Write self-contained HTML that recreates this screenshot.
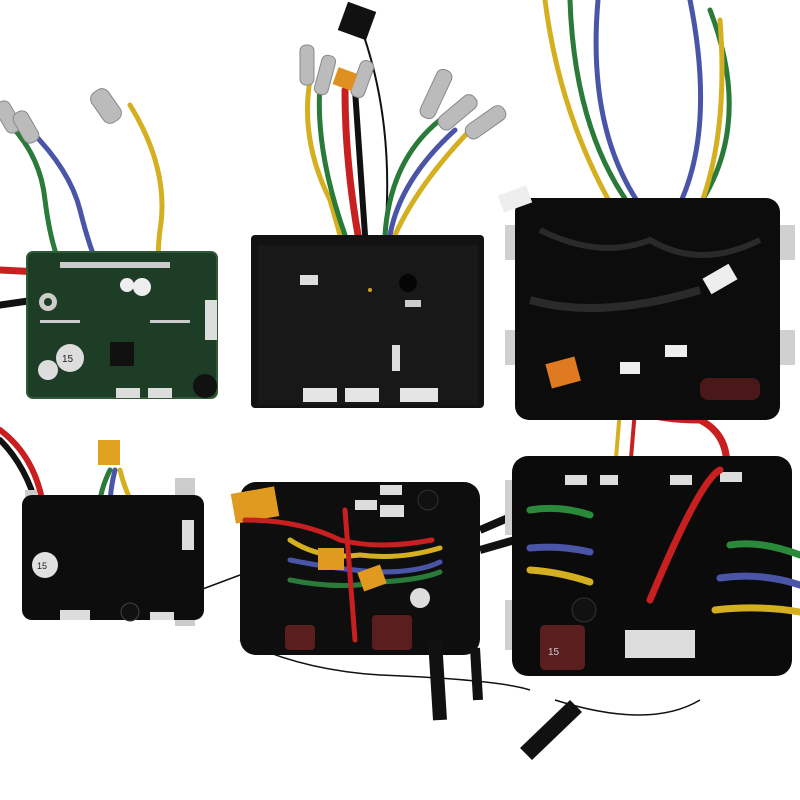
<!DOCTYPE html>
<html><head><meta charset="utf-8"><style>
html,body{margin:0;padding:0;background:#fff;width:800px;height:800px;overflow:hidden}
svg{display:block}
</style></head><body>
<svg width="800" height="800" viewBox="0 0 800 800" xmlns="http://www.w3.org/2000/svg" font-family="Liberation Sans, sans-serif">
<rect width="800" height="800" fill="#fff"/>
<g fill="none" stroke-linecap="round" stroke-width="5">
<!-- PCB wires -->
<path d="M0 115 Q40 150 45 200 Q50 240 60 265" stroke="#2a7a3a"/>
<path d="M30 130 Q70 170 80 210 Q90 250 100 270" stroke="#4a55a8"/>
<path d="M130 105 Q170 170 160 230 Q155 270 165 285" stroke="#d4b020"/>
<path d="M0 270 L40 272" stroke="#c82020" stroke-width="7"/>
<path d="M0 305 L35 300" stroke="#111" stroke-width="7"/>
<!-- middle top wires -->
<path d="M310 80 Q300 140 330 200 L340 235" stroke="#d4b020"/>
<path d="M320 85 Q315 150 345 235" stroke="#2a7a3a"/>
<path d="M345 90 Q345 160 358 235" stroke="#c82020" stroke-width="7"/>
<path d="M355 90 Q360 160 365 235" stroke="#111" stroke-width="6"/>
<path d="M360 25 Q395 120 385 235" stroke="#111" stroke-width="2"/>
<path d="M440 120 Q390 160 385 235" stroke="#2a7a3a"/>
<path d="M455 130 Q400 180 390 235" stroke="#4a55a8"/>
<path d="M480 120 Q420 180 395 235" stroke="#d4b020"/>
<!-- top right wires -->
<path d="M545 0 Q560 120 620 220 L640 235" stroke="#d4b020"/>
<path d="M570 0 Q575 150 650 230" stroke="#2a7a3a"/>
<path d="M598 0 Q585 150 660 230" stroke="#4a55a8"/>
<path d="M690 0 Q720 150 665 230" stroke="#4a55a8"/>
<path d="M710 10 Q760 140 680 230" stroke="#2a7a3a"/>
<path d="M720 20 Q730 150 690 230" stroke="#d4b020"/>
<!-- connecting red wires -->
<path d="M570 375 Q620 420 700 420 Q740 440 720 500 Q690 580 620 610" stroke="#c82020" stroke-width="7"/>
<path d="M620 410 L615 470" stroke="#d4b020" stroke-width="4"/>
<path d="M635 410 L630 470" stroke="#c82020" stroke-width="4"/>
<!-- bottom left wires -->
<path d="M0 430 Q40 460 45 520" stroke="#c82020" stroke-width="6"/>
<path d="M0 440 Q30 470 40 520" stroke="#111" stroke-width="6"/>
<path d="M110 470 Q95 500 100 530" stroke="#2a7a3a"/>
<path d="M115 470 Q105 510 115 535" stroke="#4a55a8"/>
<path d="M120 470 Q130 510 150 525" stroke="#d4b020"/>
</g>
<!-- connectors (pins) -->
<g fill="#bbb" stroke="#888" stroke-width="1">
<rect x="96" y="88" width="20" height="36" rx="8" transform="rotate(-35 106 106)"/>
<rect x="0" y="100" width="16" height="34" rx="7" transform="rotate(-30 8 117)"/>
<rect x="18" y="110" width="16" height="34" rx="7" transform="rotate(-30 26 127)"/>
<rect x="300" y="45" width="14" height="40" rx="6"/>
<rect x="318" y="55" width="14" height="40" rx="6" transform="rotate(15 325 75)"/>
<rect x="355" y="60" width="14" height="38" rx="6" transform="rotate(20 362 80)"/>
<rect x="428" y="68" width="16" height="52" rx="7" transform="rotate(25 436 94)"/>
<rect x="450" y="90" width="16" height="45" rx="7" transform="rotate(50 458 112)"/>
<rect x="478" y="100" width="16" height="45" rx="7" transform="rotate(55 486 122)"/>
</g>
<rect x="335" y="70" width="20" height="18" fill="#e09020" transform="rotate(20 345 79)"/>
<rect x="342" y="6" width="30" height="30" fill="#111" transform="rotate(20 357 21)"/>
<!-- PCB -->
<rect x="27" y="252" width="190" height="146" rx="6" fill="#1e3d26"/>
<rect x="27" y="252" width="190" height="146" rx="6" fill="none" stroke="#2f5a36" stroke-width="2"/>
<circle cx="48" cy="302" r="9" fill="#ccc"/><circle cx="48" cy="302" r="4" fill="#1e3d26"/>
<circle cx="70" cy="358" r="14" fill="#ddd"/><circle cx="48" cy="370" r="10" fill="#ddd"/>
<text x="62" y="362" font-size="10" fill="#222">15</text>
<circle cx="142" cy="287" r="9" fill="#eee"/><circle cx="127" cy="285" r="7" fill="#eee"/>
<rect x="110" y="342" width="24" height="24" fill="#111"/>
<rect x="205" y="300" width="12" height="40" fill="#ddd"/>
<circle cx="205" cy="386" r="12" fill="#111"/>
<rect x="116" y="388" width="24" height="10" fill="#ddd"/><rect x="148" y="388" width="24" height="10" fill="#ddd"/>
<g fill="#ccc"><rect x="60" y="262" width="110" height="6"/><rect x="40" y="320" width="40" height="3"/><rect x="150" y="320" width="40" height="3"/></g>
<!-- middle black box -->
<rect x="251" y="235" width="233" height="173" rx="4" fill="#121212"/>
<rect x="258" y="245" width="220" height="160" fill="#181818"/>
<circle cx="408" cy="283" r="9" fill="#050505"/>
<rect x="300" y="275" width="18" height="10" fill="#ddd"/>
<rect x="405" y="300" width="16" height="7" fill="#ccc"/>
<rect x="392" y="345" width="8" height="26" fill="#ddd"/>
<rect x="303" y="388" width="34" height="14" fill="#e5e5e5"/><rect x="345" y="388" width="34" height="14" fill="#e5e5e5"/><rect x="400" y="388" width="38" height="14" fill="#e5e5e5"/>
<circle cx="370" cy="290" r="2" fill="#d4a020"/>
<!-- top right potted box -->
<rect x="505" y="225" width="30" height="35" fill="#d0d0d0"/><rect x="770" y="225" width="25" height="35" fill="#d0d0d0"/>
<rect x="505" y="330" width="30" height="35" fill="#d0d0d0"/><rect x="770" y="330" width="25" height="35" fill="#d0d0d0"/>
<rect x="515" y="198" width="265" height="222" rx="14" fill="#0c0c0c"/>
<path d="M540 230 Q600 260 650 240 Q700 270 760 240" stroke="#2a2a2a" stroke-width="6" fill="none"/>
<path d="M530 300 Q600 320 700 290" stroke="#2a2a2a" stroke-width="8" fill="none"/>
<rect x="500" y="190" width="30" height="18" fill="#eee" transform="rotate(-20 515 199)"/>
<rect x="705" y="270" width="30" height="18" fill="#eee" transform="rotate(-30 720 279)"/>
<rect x="665" y="345" width="22" height="12" fill="#eee"/><rect x="620" y="362" width="20" height="12" fill="#eee"/>
<rect x="548" y="360" width="30" height="25" fill="#e07a20" transform="rotate(-15 563 372)"/>
<rect x="700" y="378" width="60" height="22" rx="8" fill="#4a1818"/>
<!-- bottom left box -->
<rect x="25" y="490" width="12" height="128" fill="#ccc"/><rect x="175" y="478" width="20" height="148" fill="#ccc"/>
<rect x="22" y="495" width="182" height="125" rx="10" fill="#0d0d0d"/>
<rect x="98" y="440" width="22" height="25" fill="#e0a020"/>
<circle cx="45" cy="565" r="13" fill="#e0e0e0"/><text x="37" y="569" font-size="9" fill="#222">15</text>
<circle cx="130" cy="612" r="9" fill="#111" stroke="#444"/>
<rect x="182" y="520" width="12" height="30" fill="#ddd"/>
<rect x="60" y="610" width="30" height="10" fill="#ddd"/><rect x="150" y="612" width="24" height="8" fill="#ddd"/>
<!-- bottom middle box -->
<rect x="240" y="482" width="240" height="173" rx="16" fill="#0e0e0e"/>
<rect x="233" y="490" width="44" height="30" fill="#e09a20" transform="rotate(-10 255 505)"/>
<rect x="380" y="485" width="22" height="10" fill="#ddd"/>
<rect x="355" y="500" width="22" height="10" fill="#ddd"/>
<rect x="380" y="505" width="24" height="12" fill="#ddd"/>
<circle cx="428" cy="500" r="10" fill="#111" stroke="#333"/>
<g fill="none" stroke-width="5" stroke-linecap="round">
<path d="M245 520 Q300 520 340 540 Q380 550 432 540" stroke="#c82020"/>
<path d="M290 540 Q320 560 360 555 Q400 560 440 548" stroke="#d4b020"/>
<path d="M290 560 Q340 570 380 572 Q420 572 440 562" stroke="#4a55a8"/>
<path d="M290 580 Q340 590 380 582 Q420 580 440 572" stroke="#2a7a3a"/>
<path d="M345 510 L355 640" stroke="#c82020"/>
</g>
<rect x="318" y="548" width="26" height="22" fill="#e09a20"/>
<rect x="360" y="568" width="24" height="20" fill="#e09a20" transform="rotate(-20 372 578)"/>
<rect x="285" y="625" width="30" height="25" rx="4" fill="#5a1e1e"/><rect x="372" y="615" width="40" height="35" rx="4" fill="#5a1e1e"/>
<circle cx="420" cy="598" r="10" fill="#ddd"/>
<path d="M435 640 L440 720" stroke="#111" stroke-width="14"/>
<path d="M475 648 L478 700" stroke="#111" stroke-width="10"/>
<path d="M480 530 L515 515 M480 550 L515 540" stroke="#111" stroke-width="8"/>
<path d="M240 640 Q300 670 380 675 Q500 680 530 690" stroke="#111" stroke-width="1.5" fill="none"/>
<path d="M200 590 L240 575" stroke="#111" stroke-width="1.5"/>
<!-- bottom right box -->
<rect x="505" y="480" width="22" height="55" fill="#d0d0d0"/><rect x="505" y="600" width="22" height="50" fill="#d0d0d0"/>
<rect x="512" y="456" width="280" height="220" rx="16" fill="#0b0b0b"/>
<rect x="565" y="475" width="22" height="10" fill="#ddd"/><rect x="600" y="475" width="18" height="10" fill="#ddd"/>
<rect x="670" y="475" width="22" height="10" fill="#ddd"/><rect x="720" y="472" width="22" height="10" fill="#ddd"/>
<g fill="none" stroke-width="7" stroke-linecap="round">
<path d="M530 510 Q560 505 590 515" stroke="#2a8a3a"/>
<path d="M530 548 Q560 545 590 552" stroke="#4a55a8"/>
<path d="M530 570 Q560 572 590 582" stroke="#d4b020"/>
<path d="M730 545 Q760 540 800 555" stroke="#2a8a3a"/>
<path d="M720 578 Q760 572 800 585" stroke="#4a55a8"/>
<path d="M715 610 Q760 605 800 612" stroke="#d4b020"/>
<path d="M650 600 Q700 480 720 470" stroke="#c82020"/>
</g>
<circle cx="584" cy="610" r="12" fill="#111" stroke="#333"/>
<rect x="540" y="625" width="45" height="45" rx="5" fill="#5a1e1e"/>
<text x="548" y="655" font-size="10" fill="#ccc">15</text>
<rect x="625" y="630" width="70" height="28" fill="#ddd"/>
<path d="M520 748 L570 700 L582 712 L532 760 Z" fill="#111"/>
<path d="M555 700 Q650 730 700 700" stroke="#111" stroke-width="1.5" fill="none"/>
</svg>
</body></html>
